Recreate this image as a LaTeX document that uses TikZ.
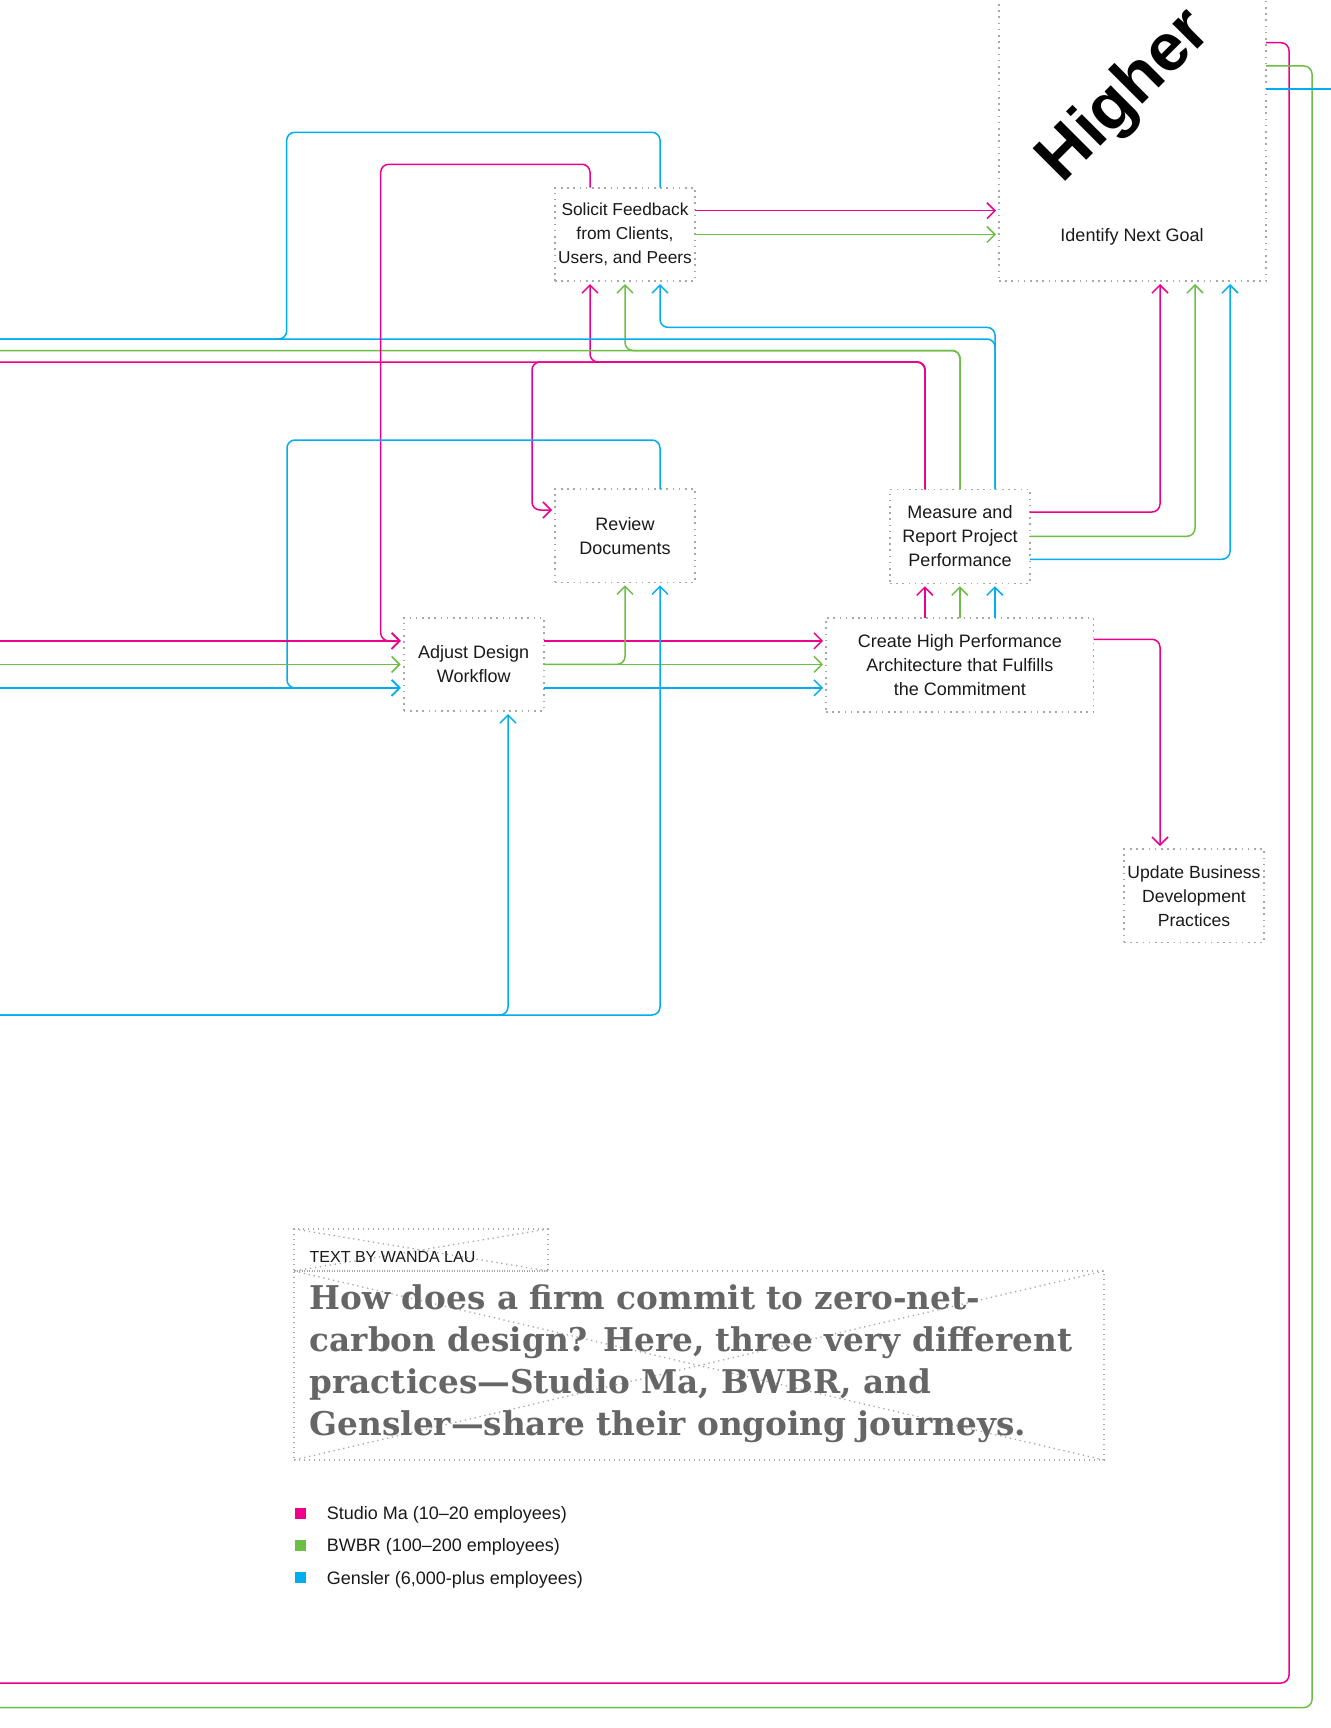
\documentclass[tikz,border=0pt]{standalone}
\usepackage{fontspec}
\setmainfont{Liberation Sans}
\newfontfamily\slabfont{DejaVu Serif}
\usetikzlibrary{arrows.meta}
\definecolor{pk}{HTML}{EC008C}
\definecolor{gn}{HTML}{6DBE45}
\definecolor{bl}{HTML}{00AEEF}
\definecolor{dotgray}{HTML}{A8A8A8}
\definecolor{headgray}{HTML}{666666}
\definecolor{ink}{HTML}{1A1A1A}
\tikzset{
  box/.style={draw=dotgray, line width=1.6pt, dash pattern=on 1.6pt off 4.6pt,
    align=center, inner sep=0pt, outer sep=0pt, text=ink,
    font=\fontsize{18}{24}\selectfont},
  framebox/.style={draw=dotgray, line width=1.3pt, dash pattern=on 1.3pt off 3.7pt,
    inner sep=0pt, outer sep=0pt},
  framedots/.style={draw=dotgray, line width=1.3pt, dash pattern=on 1.3pt off 3.7pt},
  wire/.style={line width=1.5pt, rounded corners=8pt},
  pkw/.style={wire, draw=pk},
  gnw/.style={wire, draw=gn},
  blw/.style={wire, draw=bl},
  arr/.style={-{Straight Barb[length=8pt,width=16pt]}, shorten >=3pt},
  lbl/.style={text=ink, font=\fontsize{18}{24}\selectfont, inner sep=0pt},
  legsq/.style={minimum size=11pt, inner sep=0pt, outer sep=0pt},
  headline/.style={anchor=base west, inner sep=0pt, text=headgray,
    font=\slabfont\bfseries\fontsize{32.7}{42}\selectfont}
}
\begin{document}
\begin{tikzpicture}[x=1pt,y=-1pt]
\useasboundingbox (0,0) rectangle (1330,1728);
\fill[white] (0,0) rectangle (1330,1728);

% edge coordinates
\coordinate (edgeL) at (0,0);
\coordinate (edgeR) at (1345,0);
\coordinate (eBl1) at (0,339);
\coordinate (eGn1) at (0,350.5);
\coordinate (ePk1) at (0,362);
\coordinate (eBl3) at (0,1015);
\coordinate (ePk3) at (0,1683);
\coordinate (eGn3) at (0,1707.5);

% nodes
\node[box, minimum width=140pt, minimum height=93.3pt, font=\fontsize{17.3}{24}\selectfont] (solicit) at (625,234.4) {Solicit Feedback\\from Clients,\\Users, and Peers};
\node[box, minimum width=140pt, minimum height=93.3pt] (review) at (625,535.7) {Review\\Documents};
\node[box, minimum width=140pt, minimum height=93.3pt] (adjust) at (473.7,664.4) {Adjust Design\\Workflow};
\node[box, minimum width=267.5pt, minimum height=94pt] (create) at (959.8,664.7) {Create High Performance\\Architecture that Fulfills\\the Commitment};
\node[box, minimum width=140pt, minimum height=94pt] (measure) at (960,536.3) {Measure and\\Report Project\\Performance};
\node[box, minimum width=140pt, minimum height=93.3pt, font=\fontsize{17.6}{24}\selectfont] (update) at (1194,895.7) {Update Business\\Development\\Practices};
\node[box, minimum width=267pt, minimum height=321pt] (identify) at (1132.5,120.5) {};
\node[lbl] (idtext) at (1132,237) {Identify Next Goal};
\node[rotate=45, anchor=base, inner sep=0pt, text=black, font=\bfseries\fontsize{67}{67}\selectfont] (higher) at (1138,109) {Higher};

% ports
\coordinate (solSpk) at ([xshift=-35pt]solicit.south);
\coordinate (solSgn) at (solicit.south);
\coordinate (solSbl) at ([xshift=35pt]solicit.south);
\coordinate (solNpk) at ([xshift=-35pt]solicit.north);
\coordinate (solNbl) at ([xshift=35pt]solicit.north);
\coordinate (solEpk) at ([yshift=23.7pt]solicit.east);
\coordinate (solEgn) at (solicit.east);
\coordinate (revNbl) at ([xshift=35pt]review.north);
\coordinate (revWpk) at ([yshift=25.7pt]review.west);
\coordinate (revSgn) at (review.south);
\coordinate (revSbl) at ([xshift=35pt]review.south);
\coordinate (adjWpk) at ([yshift=23.5pt]adjust.west);
\coordinate (adjWgn) at (adjust.west);
\coordinate (adjWbl) at ([yshift=-23.5pt]adjust.west);
\coordinate (adjEpk) at ([yshift=23.5pt]adjust.east);
\coordinate (adjEgn) at (adjust.east);
\coordinate (adjEbl) at ([yshift=-23.5pt]adjust.east);
\coordinate (adjSbl) at ([xshift=34.3pt]adjust.south);
\coordinate (crNpk) at ([xshift=-35pt]create.north);
\coordinate (crNgn) at (create.north);
\coordinate (crNbl) at ([xshift=35pt]create.north);
\coordinate (crEpk) at ([yshift=25.4pt]create.east);
\coordinate (mNpk) at ([xshift=-35pt]measure.north);
\coordinate (mNgn) at (measure.north);
\coordinate (mNbl) at ([xshift=35pt]measure.north);
\coordinate (mEpk) at ([yshift=24.3pt]measure.east);
\coordinate (mEgn) at (measure.east);
\coordinate (mEbl) at ([yshift=-23pt]measure.east);
\coordinate (idSpk) at ([xshift=27.5pt]identify.south);
\coordinate (idSgn) at ([xshift=62.5pt]identify.south);
\coordinate (idSbl) at ([xshift=97.5pt]identify.south);
\coordinate (idEpk) at ([yshift=77.8pt]identify.east);
\coordinate (idEgn) at ([yshift=54.5pt]identify.east);
\coordinate (idEbl) at ([yshift=31.5pt]identify.east);
\coordinate (upN) at ([xshift=-34pt]update.north);

% Solicit -> Identify
\draw[pkw,arr] (solEpk) -- (solEpk -| identify.west);
\draw[gnw,arr] (solEgn) -- (solEgn -| identify.west);

% Measure -> Identify
\draw[pkw,arr] (mEpk) -| (idSpk);
\draw[gnw,arr] (mEgn) -| (idSgn);
\draw[blw,arr] (mEbl) -| (idSbl);

% Measure top -> left edge, Solicit, Review
\draw[pkw] (mNpk) |- (ePk1);
\draw[pkw,arr] (mNpk) |- (solSpk |- ePk1) -- (solSpk);
\draw[pkw,arr] (mNpk) |- (532,362) |- (revWpk);
\draw[gnw] (mNgn) |- (eGn1);
\draw[gnw,arr] (mNgn) |- (solSgn |- eGn1) -- (solSgn);
\draw[blw] (mNbl) |- (eBl1);
\draw[blw,arr] (mNbl) |- ([yshift=-46.3pt]solSbl) -- (solSbl);

% Solicit top
\draw[pkw,arr] (solNpk) |- (380.7,164.3) |- (adjWpk);
\draw[blw] (solNbl) |- (286.7,132.3) |- (eBl1);

% Review top
\draw[blw,arr] (revNbl) |- (287,440) |- (adjWbl);

% Left edge -> Adjust
\draw[pkw,arr] (adjWpk -| edgeL) -- (adjWpk);
\draw[gnw,arr] (adjWgn -| edgeL) -- (adjWgn);
\draw[blw,arr] (adjWbl -| edgeL) -- (adjWbl);

% Adjust -> Create, Review
\draw[pkw,arr] (adjEpk) -- (adjEpk -| create.west);
\draw[gnw,arr] (adjEgn) -- (adjEgn -| create.west);
\draw[blw,arr] (adjEbl) -- (adjEbl -| create.west);
\draw[gnw,arr] (adjEgn) -| (revSgn);

% bottom blue
\draw[blw,arr] (eBl3) -| (revSbl);
\draw[blw,arr] (eBl3) -| (adjSbl);

% Create -> Measure
\draw[pkw,arr] (crNpk) -- (crNpk |- measure.south);
\draw[gnw,arr] (crNgn) -- (crNgn |- measure.south);
\draw[blw,arr] (crNbl) -- (crNbl |- measure.south);

% Create -> Update
\draw[pkw,arr] (crEpk) -| (upN);

% Identify loops
\draw[pkw] (idEpk) -| (1289,1683) -- (ePk3);
\draw[gnw] (idEgn) -| (1312,1707.5) -- (eGn3);
\draw[blw] (idEbl) -- (idEbl -| edgeR);

% byline and headline frames
\node[framebox, minimum width=254pt, minimum height=42pt] (bybox) at (421,1250) {};
\draw[framedots] (bybox.north west) -- (bybox.south east);
\draw[framedots] (bybox.north east) -- (bybox.south west);
\node[framebox, minimum width=810pt, minimum height=189pt] (headbox) at (699,1365.5) {};
\draw[framedots] (headbox.north west) -- (headbox.south east);
\draw[framedots] (headbox.north east) -- (headbox.south west);

\node[anchor=base west, inner sep=0pt, text=ink, font=\fontsize{16}{16}\selectfont] (byline) at (309.5,1262.7) {TEXT BY WANDA LAU};
\node[headline] (hl1) at (309.5,1309) {How does a firm commit to zero-net-};
\node[headline] (hl2) at (309.5,1351) {carbon design? Here, three very different};
\node[headline] (hl3) at (309.5,1393) {practices—Studio Ma, BWBR, and};
\node[headline] (hl4) at (309.5,1435) {Gensler—share their ongoing journeys.};

% legend
\node[legsq, fill=pk] (lgpk) at (300,1513) {};
\node[legsq, fill=gn] (lggn) at (300,1545) {};
\node[legsq, fill=bl] (lgbl) at (300,1577.7) {};
\node[lbl, anchor=base west] (lgpkt) at (326.7,1519.5) {Studio Ma (10–20 employees)};
\node[lbl, anchor=base west] (lggnt) at (326.7,1551.5) {BWBR (100–200 employees)};
\node[lbl, anchor=base west] (lgblt) at (326.7,1584) {Gensler (6,000-plus employees)};
\end{tikzpicture}
\end{document}
